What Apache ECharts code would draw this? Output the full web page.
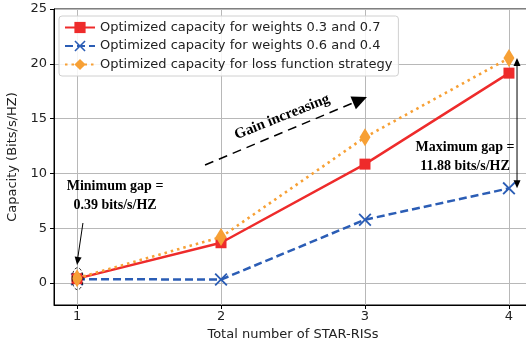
<!DOCTYPE html>
<html><head><meta charset="utf-8">
<script src="https://cdn.jsdelivr.net/npm/echarts@6/dist/echarts.min.js"></script>
<style>html,body{margin:0;padding:0;background:#fff}#c{width:526px;height:345px}</style>
</head><body><div id="c"></div>
<script>
var xValues = [1, 2, 3, 4];
var redValues = [0.40, 3.68, 10.85, 19.15];
var blueValues = [0.36, 0.32, 5.78, 8.64];
var orangeValues = [0.45, 4.2, 13.3, 20.52];
var xTicks = [1, 2, 3, 4];
var yTicks = [0, 5, 10, 15, 20, 25];
var names = ['Optimized capacity for weights 0.3 and 0.7',
             'Optimized capacity for weights 0.6 and 0.4',
             'Optimized capacity for loss function strategy'];

function pairs(v){ return xValues.map(function(x,i){return [x, v[i]];}); }
var xPath = 'path://M0,0.1L0.1,0L0.5,0.4L0.9,0L1,0.1L0.6,0.5L1,0.9L0.9,1L0.5,0.6L0.1,1L0,0.9L0.4,0.5Z';
var F = 'DejaVu Sans';
var chart = echarts.init(document.getElementById('c'), null, {renderer:'canvas'});
chart.setOption({
  animation:false,
  grid:{left:54, top:9, width:478, height:296, show:true, borderColor:'#000', borderWidth:1, containLabel:false, outerBoundsMode:'none'},
  legend:{
    left:59, top:16, orient:'vertical', itemWidth:30, itemHeight:14, itemGap:5.5,
    padding:[5,6,5,5], backgroundColor:'rgba(255,255,255,0.85)', borderColor:'#d0d0d0', borderWidth:1, borderRadius:3,
    textStyle:{fontFamily:F, fontSize:13, color:'#222'},
    data:names
  },
  xAxis:{type:'value', min:0.84, max:4.16,
    name:'Total number of STAR-RISs', nameLocation:'middle', nameGap:20,
    nameTextStyle:{fontFamily:F, fontSize:13, color:'#222'},
    axisLine:{show:true, onZero:false, lineStyle:{color:'#000', width:1}},
    axisTick:{show:true, customValues:xTicks, length:4, inside:false, lineStyle:{color:'#000'}},
    axisLabel:{customValues:xTicks, fontFamily:F, fontSize:13, color:'#222', margin:5},
    splitLine:{show:true, lineStyle:{color:'#b8b8b8', width:1}}
  },
  yAxis:{type:'value', min:-2, max:25,
    name:'Capacity (Bits/s/HZ)', nameLocation:'middle', nameGap:28,
    nameTextStyle:{fontFamily:F, fontSize:13, color:'#222'},
    axisLine:{show:true, onZero:false, lineStyle:{color:'#000', width:1}},
    axisTick:{show:true, customValues:yTicks, length:4, lineStyle:{color:'#000'}},
    axisLabel:{customValues:yTicks, fontFamily:F, fontSize:13, color:'#222', margin:7},
    splitLine:{show:true, lineStyle:{color:'#b8b8b8', width:1}}
  },
  series:[
    {name:names[0], type:'line', data:pairs(redValues), z:4,
     lineStyle:{color:'#ee2b2b', width:2.4}, itemStyle:{color:'#ee2b2b'},
     symbol:'rect', symbolSize:11, showAllSymbol:true},
    {name:names[1], type:'line', data:pairs(blueValues), z:3,
     lineStyle:{color:'#2b5db5', width:2.5, type:[8,4]}, itemStyle:{color:'#2b5db5'},
     symbol:xPath, symbolSize:13},
    {name:names[2], type:'line', data:pairs(orangeValues), z:5,
     lineStyle:{color:'#f7a035', width:2.6, type:[2.5,4], cap:'butt'}, itemStyle:{color:'#f7a035'},
     symbol:'diamond', symbolSize:[11,18]}
  ]
});

function px(x,y){ return chart.convertToPixel({gridIndex:0}, [x,y]); }
var ann = {
  gainStart:[1.889, 10.77], gainEnd:[3.014, 16.97], gainText:[2.424, 15.15],
  maxText:[3.695, 11.55], maxX:4.056,
  minText:[1.264, 7.94], minStart:[1.041, 5.48], minEnd:[1.0, 1.65]
};
function arrowHead(tip, from, len, wid){
  var dx = tip[0]-from[0], dy = tip[1]-from[1], L = Math.sqrt(dx*dx+dy*dy);
  var ux = dx/L, uy = dy/L;
  var bx = tip[0]-ux*len, by = tip[1]-uy*len;
  return {type:'polygon', shape:{points:[tip,[bx-uy*wid, by+ux*wid],[bx+uy*wid, by-ux*wid]]}, style:{fill:'#000'}, z:20};
}
var g = [];
var gs = px(ann.gainStart[0], ann.gainStart[1]), ge = px(ann.gainEnd[0], ann.gainEnd[1]);
var dx = ge[0]-gs[0], dy = ge[1]-gs[1], L = Math.sqrt(dx*dx+dy*dy);
var shaftEnd = [ge[0]-dx/L*12, ge[1]-dy/L*12];
g.push({type:'line', shape:{x1:gs[0], y1:gs[1], x2:shaftEnd[0], y2:shaftEnd[1]}, style:{stroke:'#000', lineWidth:1.5, lineDash:[9,6]}, z:20});
g.push(arrowHead(ge, gs, 15, 7));
var gt = px(ann.gainText[0], ann.gainText[1]);
g.push({type:'text', x:gt[0], y:gt[1], rotation:Math.atan2(-dy, dx)*0.95, style:{text:'Gain increasing', font:'bold 15px "Liberation Serif"', fill:'#000', align:'center', verticalAlign:'middle'}, z:20});
var mt = px(ann.maxText[0], ann.maxText[1]);
g.push({type:'text', x:mt[0], y:mt[1], style:{text:'Maximum gap =\n11.88 bits/s/HZ', font:'bold 14px "Liberation Serif"', lineHeight:19, fill:'#000', align:'center', verticalAlign:'middle'}, z:20});
var t1 = px(ann.maxX, orangeValues[3]), t2 = px(ann.maxX, blueValues[3]);
g.push({type:'line', shape:{x1:t1[0], y1:t1[1]+6, x2:t2[0], y2:t2[1]-6}, style:{stroke:'#000', lineWidth:1}, z:20});
g.push(arrowHead(t1, t2, 8, 3.5));
g.push(arrowHead(t2, t1, 8, 3.5));
var nt = px(ann.minText[0], ann.minText[1]);
g.push({type:'text', x:nt[0], y:nt[1], style:{text:'Minimum gap =\n0.39 bits/s/HZ', font:'bold 14px "Liberation Serif"', lineHeight:19, fill:'#000', align:'center', verticalAlign:'middle'}, z:20});
var ms = px(ann.minStart[0], ann.minStart[1]), me = px(ann.minEnd[0], ann.minEnd[1]);
g.push({type:'line', shape:{x1:ms[0], y1:ms[1], x2:me[0]+(ms[0]-me[0])*0.15, y2:me[1]-8}, style:{stroke:'#000', lineWidth:1}, z:20});
g.push(arrowHead(me, ms, 8, 3.5));
var ec = px(xValues[0], redValues[0]);
g.push({type:'ellipse', shape:{cx:ec[0]+0.5, cy:ec[1], rx:5.5, ry:11}, style:{fill:'none', stroke:'#000', lineWidth:0.8, lineDash:[3,2]}, z:20});
chart.setOption({graphic:g});
</script></body></html>
